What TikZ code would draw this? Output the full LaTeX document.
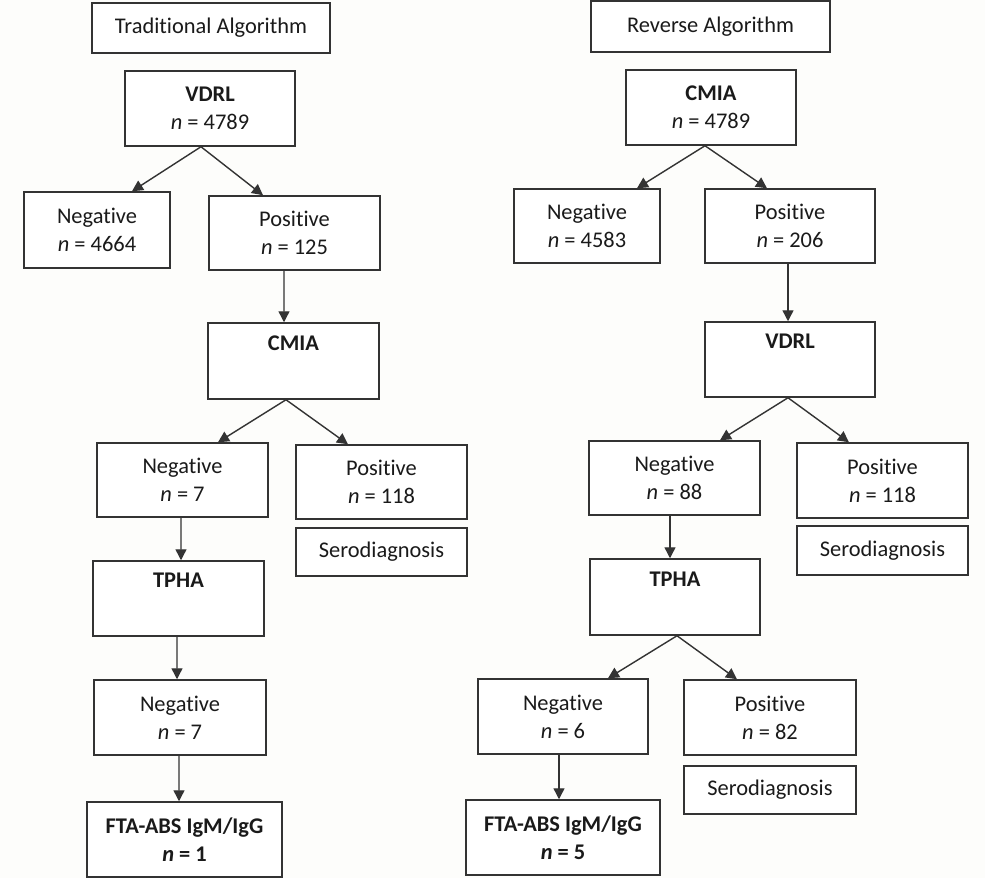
\documentclass[tikz,border=0pt]{standalone}
\usepackage{fontspec}
\setmainfont{Carlito}[Ligatures=NoCommon]
\usetikzlibrary{arrows.meta}
\definecolor{bg}{HTML}{FDFDFB}
\definecolor{ln}{HTML}{333333}
\definecolor{tx}{HTML}{1A1A1A}
\begin{document}
\begin{tikzpicture}[x=1bp,y=-1bp,
  box/.style={draw=ln, line width=1.5bp, fill=white, inner sep=0pt, align=center, text=tx,
    font=\fontsize{22.5}{28}\selectfont},
  wh/.style 2 args={minimum width=#1bp, minimum height=#2bp},
  arr/.style={draw=ln, line width=1.4bp, -{Triangle[width=11bp,length=11bp]}}]
\fill[bg] (0,0) rectangle (985,878);
\useasboundingbox (0,0) rectangle (985,878);
% ---------- Traditional algorithm ----------
\node[box, wh={238}{50}] (tt) at (211,28) {Traditional Algorithm};
\node[box, wh={170}{75}] (vdrl) at (210,108.5) {\textbf{VDRL}\\ \textit{n} = 4789};
\node[box, wh={146}{76}] (neg1) at (97,230) {Negative\\ \textit{n} = 4664};
\node[box, wh={171}{74}] (pos1) at (294.5,233) {Positive\\ \textit{n} = 125};
\node[box, wh={171}{76}] (cmia2) at (293.5,361) {\textbf{CMIA}\\ \strut};
\node[box, wh={171}{74}] (neg2) at (182.5,480) {Negative\\ \textit{n} = 7};
\node[box, wh={171}{74}] (pos2) at (381.5,482) {Positive\\ \textit{n} = 118};
\node[box, wh={171}{48}] (sero1) at (381.5,552) {Serodiagnosis};
\node[box, wh={171}{75}] (tpha1) at (178.5,598.5) {\textbf{TPHA}\\ \strut};
\node[box, wh={172}{75}] (neg3) at (180,717.5) {Negative\\ \textit{n} = 7};
\node[box, wh={195}{75}] (fta1) at (184.5,839.5) {\textbf{FTA-ABS IgM/IgG}\\ \textbf{\textit{n} = 1}};
\draw[arr] ([xshift=-9bp]vdrl.south) -- ([xshift=35bp]neg1.north);
\draw[arr] ([xshift=-9bp]vdrl.south) -- ([xshift=-31.5bp]pos1.north);
\draw[arr] ([xshift=-10.5bp]pos1.south) -- ([xshift=-9.5bp]cmia2.north);
\draw[arr] ([xshift=-7.5bp]cmia2.south) -- ([xshift=35.5bp]neg2.north);
\draw[arr] ([xshift=-7.5bp]cmia2.south) -- ([xshift=-33.5bp]pos2.north);
\draw[arr] ([xshift=-1.5bp]neg2.south) -- ([xshift=2.5bp]tpha1.north);
\draw[arr] ([xshift=-1.5bp]tpha1.south) -- ([xshift=-3bp]neg3.north);
\draw[arr] ([xshift=-1bp]neg3.south) -- ([xshift=-5.5bp]fta1.north);
% ---------- Reverse algorithm ----------
\node[box, wh={239}{51}] (rt) at (710.5,26.5) {Reverse Algorithm};
\node[box, wh={170}{75}] (cmia) at (711,107.5) {\textbf{CMIA}\\ \textit{n} = 4789};
\node[box, wh={146}{74}] (negr1) at (587,226) {Negative\\ \textit{n} = 4583};
\node[box, wh={170}{74}] (posr1) at (790,226) {Positive\\ \textit{n} = 206};
\node[box, wh={170}{75}] (vdrlr) at (790,359.5) {\textbf{VDRL}\\ \strut};
\node[box, wh={171}{74}] (negr2) at (674.5,478) {Negative\\ \textit{n} = 88};
\node[box, wh={171}{75}] (posr2) at (882.5,480.5) {Positive\\ \textit{n} = 118};
\node[box, wh={171}{49}] (seror1) at (882.5,550.5) {Serodiagnosis};
\node[box, wh={170}{76}] (tphar) at (675,597) {\textbf{TPHA}\\ \strut};
\node[box, wh={170}{75}] (negr3) at (563,716.5) {Negative\\ \textit{n} = 6};
\node[box, wh={172}{75}] (posr3) at (770,717.5) {Positive\\ \textit{n} = 82};
\node[box, wh={172}{48}] (seror2) at (770,790) {Serodiagnosis};
\node[box, wh={194}{75}] (ftar) at (563,837.5) {\textbf{FTA-ABS IgM/IgG}\\ \textbf{\textit{n} = 5}};
\draw[arr] ([xshift=-6bp]cmia.south) -- ([xshift=50bp]negr1.north);
\draw[arr] ([xshift=-6bp]cmia.south) -- ([xshift=-23bp]posr1.north);
\draw[arr] ([xshift=-2bp]posr1.south) -- ([xshift=-2bp]vdrlr.north);
\draw[arr] ([xshift=-2bp]vdrlr.south) -- ([xshift=45.5bp]negr2.north);
\draw[arr] ([xshift=-2bp]vdrlr.south) -- ([xshift=-33.5bp]posr2.north);
\draw[arr] ([xshift=-4.5bp]negr2.south) -- ([xshift=-5bp]tphar.north);
\draw[arr] ([xshift=2bp]tphar.south) -- ([xshift=45bp]negr3.north);
\draw[arr] ([xshift=2bp]tphar.south) -- ([xshift=-33bp]posr3.north);
\draw[arr] ([xshift=-4bp]negr3.south) -- ([xshift=-4bp]ftar.north);
\end{tikzpicture}
\end{document}
